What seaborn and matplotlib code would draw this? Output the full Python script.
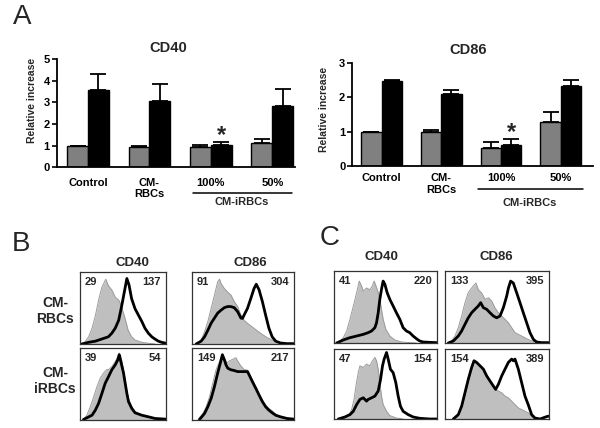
import numpy as np
import pandas as pd
import matplotlib
matplotlib.use("Agg")
import matplotlib.pyplot as plt
from matplotlib.lines import Line2D
import seaborn as sns

# ---------------- data: panel A (bar charts) ----------------
groups = ["Control", "CM-RBCs", "100%", "50%"]
group_labels = ["Control", "CM-\nRBCs", "100%", "50%"]
conditions = ["grey", "black"]
cd40_grey = [1.00, 0.95, 0.95, 1.11]
cd40_grey_err = [0.00, 0.04, 0.08, 0.19]
cd40_black = [3.58, 3.07, 1.03, 2.84]
cd40_black_err = [0.74, 0.77, 0.16, 0.77]
cd86_grey = [1.00, 1.00, 0.51, 1.29]
cd86_grey_err = [0.00, 0.06, 0.19, 0.28]
cd86_black = [2.49, 2.10, 0.61, 2.34]
cd86_black_err = [0.02, 0.12, 0.16, 0.17]
cd40_ticks = [0, 1, 2, 3, 4, 5]
cd86_ticks = [0, 1, 2, 3]

# ---------------- data: panels B and C (histogram traces, % of box) ----------------
b_cd40_rbc_grey = [(4,0),(10,10),(14,22),(18,40),(22,63),(25.5,79),(30,90),(33,81),(37,75),(41,65),(45,61),(47,56),(49,49),(52.5,35),(56,19),(60,10),(64,5.5),(72,2.3),(80,1),(87,0)]
b_cd40_rbc_black = [(2,0),(10,2.3),(18,4),(25.5,7),(33,10),(37,15),(41,22),(45,33),(48.5,53),(51.5,72),(54.5,91),(57,82),(60,63),(64,49),(68,40),(72,31),(75.5,22),(79.5,15),(83.5,10),(87,7),(91,4),(95,2.3),(100,1)]
b_cd86_rbc_grey = [(6,0),(9,5.6),(12.3,17),(15.5,31),(18.8,49.5),(22,68),(25.2,86.6),(27,90),(28.5,84),(31.7,77),(35,72),(38.2,68),(41.4,59),(44.7,52),(48,40),(51,33),(54.4,28.7),(60.8,21.8),(67.3,14.8),(73.8,8.8),(80.3,4.2),(86.7,1.4),(93,0.5),(100,0)]
b_cd86_rbc_black = [(4,0),(9,4),(12.3,10),(15.5,19),(18.8,29),(22,36),(25.2,43),(28.5,47),(31.7,50.5),(35,52),(38,52),(41.4,50.5),(44.7,45),(48,36),(49.5,35.5),(51,40),(54.4,49.5),(57.6,63),(60.8,77),(63,83),(65.7,75.5),(69,59),(72.2,40),(75.4,22),(78.6,10),(82,4),(86.7,1.4),(93,0.5),(100,0.5)]
b_cd40_irbc_grey = [(4,0),(8,6),(12,18),(16,32),(19.7,46),(23.6,58),(27.4,65),(31.3,70),(33,69.5),(37,74),(41,81),(44,88),(45.6,93),(48,86),(50.6,69.5),(52.5,55),(54.4,41),(56.4,29),(60.2,18),(64,11),(71.8,6),(79.5,2.8),(91,1),(100,0.5)]
b_cd40_irbc_black = [(4,0),(14,6),(17.8,13),(21.6,22.5),(25.5,36.6),(29.3,50.7),(33.2,60),(37,69.5),(41,76.5),(44,83.6),(45.6,90.6),(47.5,81),(50.6,65),(52.5,51),(54.4,37),(56.4,25),(60.2,15.5),(64,9.4),(71.8,6),(79.5,3.8),(87.3,1.4),(100,0.5)]
b_cd86_irbc_grey = [(6,0),(10.7,8.5),(14,18),(17.2,32),(20.4,51),(23.6,69.5),(27,81),(29.4,90.6),(31.7,86),(34.3,79),(36.6,82),(39.8,84),(43,86.4),(44.7,82),(48,74.6),(51,70),(54.4,69),(56,65),(59.2,55.4),(62.5,46),(65.7,36.6),(69,27.2),(72.2,20),(75.4,15.5),(78.6,12.2),(82,7.5),(85,4.7),(90,1.9),(96.4,0.9),(100,0.5)]
b_cd86_irbc_black = [(7.4,0),(12.3,8.5),(15.5,17.8),(18.8,29.6),(22,46),(25.2,65),(27.8,79),(29.8,90.6),(31.7,83.6),(33.3,76.5),(35,71.8),(38.2,69.5),(41.4,68.5),(44.7,67),(51,67),(54.4,67),(56,62.4),(59.2,53),(62.5,43.7),(65.7,34.3),(69,25),(72.2,17.8),(75.4,13),(78.6,9.4),(82,6),(86.7,3.8),(93.2,1.4),(100,0.5)]

c_cd40_top_grey = [(4,0),(9,7.4),(12.3,16.7),(15.5,33),(18.7,51),(22,70),(24.5,86),(26.8,79),(28.4,72),(31.6,76.4),(34.8,74),(37.1,79),(39,86),(41.3,77),(42.9,70),(44.5,60.6),(46.1,46.8),(47.7,33),(50.3,19),(54.2,9.7),(59,4.2),(65.5,1.4),(73.5,0.5),(80,0)]
c_cd40_top_black = [(2.6,0),(9,4.2),(15.5,7.4),(22,9.7),(28.4,12),(33.2,14.4),(36.5,16.7),(39.7,21.3),(41.3,28.2),(42.9,42),(44.5,60.6),(46.1,74.5),(47.7,86),(49.4,81.5),(51.6,70),(54.2,60.6),(57.4,51.4),(60.6,42),(63.9,32.9),(67.1,21.3),(70.3,16.7),(73.5,14.4),(76.8,9.7),(80,6),(83.2,2.8),(86.5,1.4),(93,0.9),(100,0.5)]
c_cd86_top_grey = [(4.8,0),(9.6,9.7),(12.8,21.3),(16,37.5),(19.2,56),(22.4,70),(25.6,76.4),(28.2,81),(29.8,83.3),(32,74),(35.3,69.4),(38.5,60.6),(41.7,62.9),(44.9,58.3),(48,49),(51.3,42),(54.5,37.5),(57.7,32.9),(60.9,28.2),(64.1,21.3),(67.3,14.4),(70.5,12),(73.7,9.7),(78.5,6),(83.3,2.8),(88.1,0.9),(93,0.5),(100,0)]
c_cd86_top_black = [(3.2,0),(8,2.8),(12.8,9.7),(16,16.7),(19.2,26),(22.4,35),(25.6,42),(28.8,46.8),(32,51.4),(34.3,56),(36.9,49),(40.1,46.8),(43.3,42),(46.5,37.5),(49.7,35),(52.9,37.5),(56.1,49),(59.3,65),(61,76.4),(63.1,86),(65.7,83.3),(69,69.4),(72.1,56),(75.3,42),(78.5,28.2),(81.7,14.4),(85,5),(88.1,1.4),(93,0.5),(100,0.5)]
c_cd40_bot_grey = [(9,0),(13.9,3.8),(17.1,13.5),(19.4,28),(21.3,47),(23.5,66.3),(25.2,76),(28.4,73.6),(31.6,78.4),(34.8,76),(37.4,83.2),(39.7,88),(41.3,83.2),(42.9,71),(44.5,52),(46.1,32.7),(47.7,20.7),(51,11),(54.2,4.8),(60.6,1.4),(67,0)]
c_cd40_bot_black = [(4.2,0),(10.6,2.9),(15.5,6.3),(18.7,11),(22,20.7),(25.2,28),(28.4,30.3),(31.6,25.5),(33.2,28),(36.5,30.3),(39.7,32.7),(42.9,40),(45.2,56.7),(47.1,76),(48.7,85.6),(51,95),(52.6,85.6),(54.8,71),(57.4,66.3),(60,52),(62.3,32.7),(64.5,18.3),(67.1,11),(72,6.3),(76.8,2.9),(83.2,1),(93,0),(100,0)]
c_cd86_bot_grey = [(11.2,0),(14.4,8.7),(17.6,23),(20.8,42.3),(24,61.5),(27.2,76),(28.8,83.2),(32,78.4),(35.3,73.6),(38.5,66.3),(41.7,56.7),(44.9,49.5),(48,42.3),(51.3,40),(54.5,37.5),(57.7,32.7),(60.9,30.3),(64.1,25.5),(67.3,20.7),(70.5,15.9),(73.7,13.5),(76.9,11),(80.1,8.7),(83.3,3.8),(86.5,1.4),(93,0)]
c_cd86_bot_black = [(8,0),(12.8,6.3),(16,18.3),(19.2,37.5),(22.4,56.7),(25.6,73.6),(27.9,83.2),(30.4,80.8),(33.7,76),(36.9,71.2),(40.1,61.5),(43.3,54.3),(46.5,47.1),(48.7,42.3),(51.3,49.5),(54.5,61.5),(57.7,71.2),(60.9,80.8),(64.1,85.6),(65.7,83.2),(67.3,85.6),(70.5,71.2),(73.7,51.9),(76.9,32.7),(80.1,20.2),(83.3,6.3),(86.5,1.4),(91.3,0),(96.8,2.9),(98.7,3.8),(100,4)]

b_numbers = [("29", "137"), ("91", "304"), ("39", "54"), ("149", "217")]
c_numbers = [("41", "220"), ("133", "395"), ("47", "154"), ("154", "389")]

# ---------------- style ----------------
sns.set_theme(style="ticks")
plt.rcParams["font.family"] = ["Liberation Sans", "DejaVu Sans"]
plt.rcParams["font.weight"] = "bold"

BAR_GREY = "#808080"
FILL = "#bfbfbf"
OUTLINE = "#9a9a9a"

W, H = 600, 428
fig = plt.figure(figsize=(6, 4.28), dpi=100)
fig.patch.set_facecolor("white")


def rect(x0, y0, x1, y1):
    return [x0 / W, 1 - y1 / H, (x1 - x0) / W, (y1 - y0) / H]


def ftext(x, y, s, **kw):
    kw.setdefault("ha", "center")
    kw.setdefault("va", "center")
    fig.text(x / W, 1 - y / H, s, **kw)


def fline(x0, x1, y, lw=1.1):
    fig.add_artist(Line2D([x0 / W, x1 / W], [1 - y / H, 1 - y / H],
                          transform=fig.transFigure, color="black", lw=lw))


def bar_panel(box, grey, grey_err, black, black_err, ticks, xlim, xpad):
    ax = fig.add_axes(rect(*box))
    df = pd.DataFrame({
        "group": groups * 2,
        "condition": [conditions[0]] * len(groups) + [conditions[1]] * len(groups),
        "value": grey + black,
    })
    sns.barplot(data=df, x="group", y="value", hue="condition", order=groups,
                hue_order=conditions, palette=[BAR_GREY, "black"], width=0.68,
                edgecolor="black", linewidth=1.0, errorbar=None, legend=False,
                saturation=1, ax=ax)
    tops = []
    for cont, errs in zip(ax.containers, [grey_err, black_err]):
        xs = [p.get_x() + p.get_width() / 2 for p in cont]
        hs = [p.get_height() for p in cont]
        ax.errorbar(xs, hs, yerr=[np.zeros(len(errs)), errs], fmt="none",
                    ecolor="black", elinewidth=1.3, capsize=6, capthick=1.3,
                    zorder=3)
        tops.append((xs, [h + e for h, e in zip(hs, errs)]))
    ax.set_xlim(*xlim)
    ax.set_ylim(ticks[0], ticks[-1])
    ax.set_yticks(ticks)
    ax.set_yticklabels([str(t) for t in ticks])
    ax.set_xticks(range(len(groups)))
    ax.set_xticklabels(group_labels)
    ax.tick_params(axis="y", length=3.5, width=1.2, labelsize=8, pad=1.5, colors="black")
    ax.tick_params(axis="x", length=0, labelsize=8, pad=xpad, colors="black")
    ax.set_xlabel("")
    ax.set_ylabel("")
    sns.despine(ax=ax)
    for s in ("left", "bottom"):
        ax.spines[s].set_linewidth(1.3)
        ax.spines[s].set_color("black")
    ax.patch.set_alpha(0)
    # asterisk over the black 100% bar
    xs, ts = tops[1]
    ax.annotate("*", xy=(xs[2], ts[2]), xytext=(0, 0), textcoords="offset points",
                ha="center", va="baseline", fontsize=17, fontweight="bold")
    return ax


def hist_panel(box, grey_pts, black_pts, nums):
    ax = fig.add_axes(rect(*box))
    gx = [p[0] for p in grey_pts]
    gy = [p[1] for p in grey_pts]
    bx = [p[0] for p in black_pts]
    by = [p[1] for p in black_pts]
    ax.fill_between(gx, gy, 0, color=FILL, lw=0)
    sns.lineplot(x=gx, y=gy, color=OUTLINE, lw=0.7, estimator=None, sort=False, ax=ax)
    sns.lineplot(x=bx, y=by, color="black", lw=2.0, estimator=None, sort=False, ax=ax)
    ax.set_xlim(0, 100)
    ax.set_ylim(0, 100)
    ax.set_xticks([])
    ax.set_yticks([])
    ax.set_xlabel("")
    ax.set_ylabel("")
    for s in ax.spines.values():
        s.set_visible(True)
        s.set_color("#333333")
        s.set_linewidth(0.9)
    wpx = box[2] - box[0]
    ax.text(5 / wpx, 0.86, nums[0], transform=ax.transAxes, ha="left", va="center",
            fontsize=8, fontweight="bold")
    ax.text(1 - 5 / wpx, 0.86, nums[1], transform=ax.transAxes, ha="right", va="center",
            fontsize=8, fontweight="bold")
    return ax


# ---------------- panel A ----------------
bar_panel((56.7, 59.3, 295, 167.3), cd40_grey, cd40_grey_err, cd40_black, cd40_black_err,
          cd40_ticks, (-0.51, 3.37), 7.5)
bar_panel((352.3, 63.3, 593, 165.7), cd86_grey, cd86_grey_err, cd86_black, cd86_black_err,
          cd86_ticks, (-0.49, 3.54), 5.3)

ftext(22, 17, "A", fontsize=20, fontweight="normal")
ftext(168, 48, "CD40", fontsize=10.5, fontweight="bold")
ftext(468, 50, "CD86", fontsize=10.5, fontweight="bold")
ftext(32, 100, "Relative increase", rotation=90, fontsize=7.5, fontweight="bold")
ftext(324, 109, "Relative increase", rotation=90, fontsize=7.5, fontweight="bold")
fline(193, 292, 193)
ftext(242, 202, "CM-iRBCs", fontsize=8, fontweight="bold")
fline(478, 583, 189)
ftext(530, 203, "CM-iRBCs", fontsize=8, fontweight="bold")

# ---------------- panel B ----------------
ftext(21, 244, "B", fontsize=20, fontweight="normal")
ftext(132, 263, "CD40", fontsize=9.5, fontweight="bold")
ftext(250, 263, "CD86", fontsize=9.5, fontweight="bold")
ftext(55, 311, "CM-\nRBCs", fontsize=10, fontweight="bold", linespacing=1.15)
ftext(55, 381, "CM-\niRBCs", fontsize=10, fontweight="bold", linespacing=1.15)
hist_panel((80, 272, 166, 344), b_cd40_rbc_grey, b_cd40_rbc_black, b_numbers[0])
hist_panel((192, 272, 294, 344), b_cd86_rbc_grey, b_cd86_rbc_black, b_numbers[1])
hist_panel((80, 348, 166, 419.5), b_cd40_irbc_grey, b_cd40_irbc_black, b_numbers[2])
hist_panel((192, 348, 294, 419.5), b_cd86_irbc_grey, b_cd86_irbc_black, b_numbers[3])

# ---------------- panel C ----------------
ftext(330, 238, "C", fontsize=20, fontweight="normal")
ftext(381, 257, "CD40", fontsize=9.5, fontweight="bold")
ftext(496, 257, "CD86", fontsize=9.5, fontweight="bold")
hist_panel((334, 271, 437, 343), c_cd40_top_grey, c_cd40_top_black, c_numbers[0])
hist_panel((445, 271, 549, 343), c_cd86_top_grey, c_cd86_top_black, c_numbers[1])
hist_panel((334, 349, 437, 419), c_cd40_bot_grey, c_cd40_bot_black, c_numbers[2])
hist_panel((445, 349, 549, 419), c_cd86_bot_grey, c_cd86_bot_black, c_numbers[3])

fig.savefig("out.png", dpi=100, facecolor="white")
